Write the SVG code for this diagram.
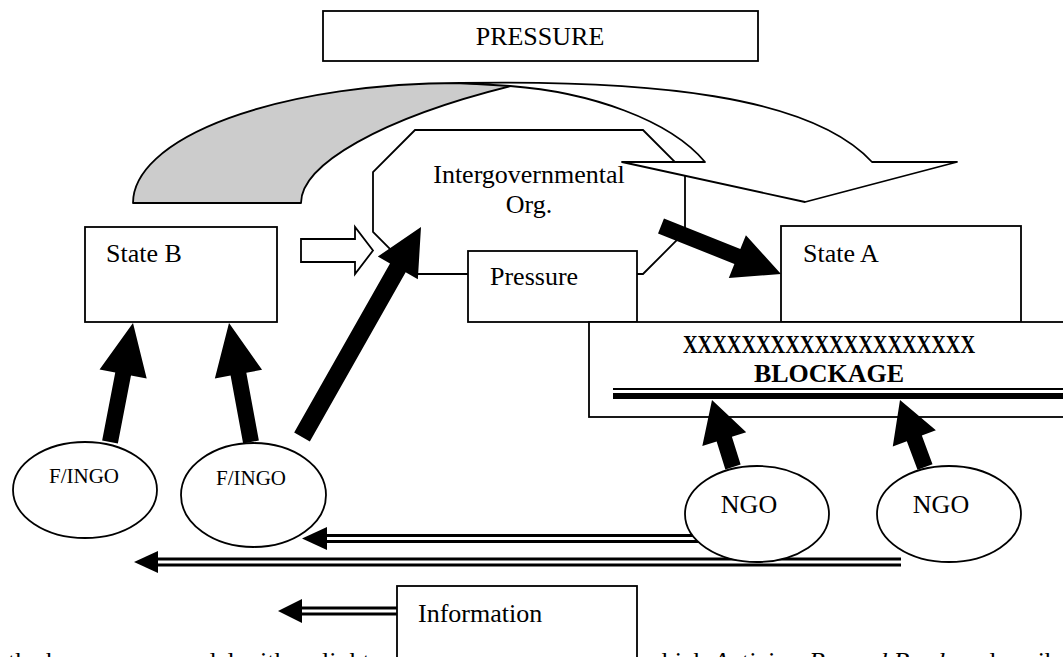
<svg xmlns="http://www.w3.org/2000/svg" width="1063" height="657" viewBox="0 0 1063 657">
<style>
.box{fill:#fff;stroke:#000;stroke-width:1.8}
.lbl{font-family:'Liberation Serif','Times New Roman',serif;font-size:26px;fill:#000}
.sm{font-size:21px}
.bold{font-weight:bold}
.blk{fill:#000;stroke:none}
.dl{stroke:#000;stroke-width:9;fill:none}
.dlw{stroke:#fff;stroke-width:3;fill:none}
</style>
<rect width="1063" height="657" fill="#fff"/>
<g id="body-text">
<text class="lbl" x="8" y="670">the boomerang model with a slight vari</text>
<text class="lbl" x="643" y="670">which <tspan font-style="italic">Activism Beyond Borders</tspan> describes</text>
</g>
<g id="node-pressure-title">
<rect class="box" x="323" y="11" width="435" height="50"/>
<text class="lbl" x="540" y="45" text-anchor="middle">PRESSURE</text>
</g>
<g id="node-igo">
<polygon class="box" points="415,130 643,130 685,172 685,232 643,274 415,274 373,232 373,172"/>
<text class="lbl" x="529" y="183" text-anchor="middle">Intergovernmental</text>
<text class="lbl" x="529" y="213" text-anchor="middle">Org.</text>
</g>
<g id="node-pressure">
<rect class="box" x="468" y="251" width="169" height="71"/>
<text class="lbl" x="490" y="285">Pressure</text>
</g>
<g id="node-stateB">
<rect class="box" x="85" y="227" width="192" height="95"/>
<text class="lbl" x="106" y="262">State B</text>
</g>
<g id="node-stateA">
<rect class="box" x="781" y="226" width="240" height="96"/>
<text class="lbl" x="803" y="262">State A</text>
</g>
<g id="node-blockage">
<rect class="box" x="589" y="322" width="500" height="95"/>
<text class="lbl bold" x="829" y="353" text-anchor="middle" font-size="20" textLength="292" lengthAdjust="spacingAndGlyphs">XXXXXXXXXXXXXXXXXXXX</text>
<text class="lbl bold" x="829" y="382" text-anchor="middle">BLOCKAGE</text>
<rect class="blk" x="613" y="388" width="460" height="2"/>
<rect class="blk" x="613" y="393" width="460" height="6"/>
</g>
<g id="connectors">
<path d="M133,203 A327,120 0 0 1 460,83 L515,85 C380,118 301,165 301,203 Z" fill="#cccccc" stroke="#000" stroke-width="1.8" stroke-linejoin="round"/>
<path d="M460,83 C650,80 810,95 872,162 L957,162 L805,202 L622,162 L705,162 C670,120 590,92 510,86 Z" class="box" stroke-linejoin="round"/>
<polygon class="box" points="301,239 355,239 355,227 373,250.5 355,274 355,262 301,262"/>
<polygon class="blk" points="117.86,443.52 131,375.58 146.69,378.62 133,323 99.55,369.5 115.26,372.54 102.14,440.48"/>
<polygon class="blk" points="258.87,440.55 246.32,372.69 262.05,369.78 229,323 214.85,378.5 230.58,375.59 243.13,443.45"/>
<polygon class="blk" points="309.83,441.44 405.66,272.33 417.84,279.23 421,227 377.82,256.55 390,263.45 294.17,432.56"/>
<polygon class="blk" points="658.03,233.43 734.39,263.97 728.82,277.9 781,274 745.9,235.18 740.33,249.11 663.97,218.57"/>
<polygon class="blk" points="740.63,464.61 731.9,436.73 746.22,432.24 712,400 702.32,446 716.64,441.51 725.37,469.39"/>
<polygon class="blk" points="932.5,464.2 921.83,435.61 935.88,430.37 900,400 892.78,446.45 906.83,441.21 917.5,469.8"/>
<line class="dl" x1="326" y1="538.5" x2="720" y2="538.5"/>
<line class="dlw" x1="326" y1="538.5" x2="720" y2="538.5"/>
<polygon class="blk" points="302,538.5 327,527 327,550"/>
<line class="dl" x1="157" y1="562" x2="901" y2="562"/>
<line class="dlw" x1="157" y1="562" x2="901" y2="562"/>
<polygon class="blk" points="134,562 158,551 158,573"/>
<line class="dl" x1="301" y1="611" x2="397" y2="611"/>
<line class="dlw" x1="301" y1="611" x2="397" y2="611"/>
<polygon class="blk" points="278,611 302,599 302,623"/>
</g>
<g id="node-fingo1">
<ellipse class="box" cx="85" cy="490" rx="72" ry="48"/>
<text class="lbl sm" x="84" y="483" text-anchor="middle">F/INGO</text>
</g>
<g id="node-fingo2">
<ellipse class="box" cx="253.5" cy="495" rx="72.5" ry="52"/>
<text class="lbl sm" x="251" y="485" text-anchor="middle">F/INGO</text>
</g>
<g id="node-ngo1">
<ellipse class="box" cx="757" cy="514" rx="72" ry="48"/>
<text class="lbl" x="749" y="513" text-anchor="middle">NGO</text>
</g>
<g id="node-ngo2">
<ellipse class="box" cx="949" cy="514" rx="72" ry="48"/>
<text class="lbl" x="941" y="513" text-anchor="middle">NGO</text>
</g>
<g id="node-information">
<rect class="box" x="397" y="586" width="240" height="90"/>
<text class="lbl" x="418" y="622">Information</text>
</g>
</svg>
